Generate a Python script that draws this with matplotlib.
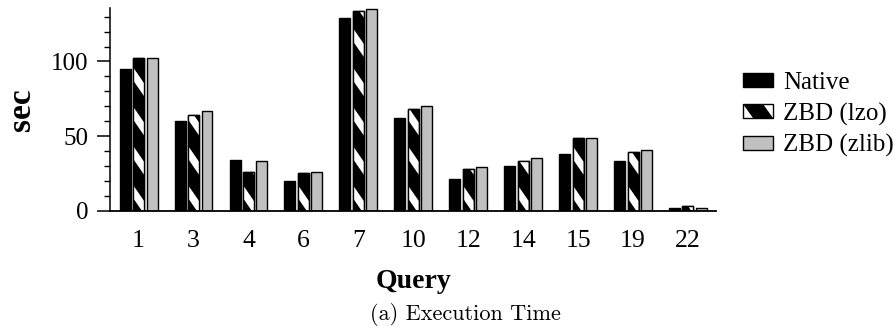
import numpy as np
import matplotlib
matplotlib.use("Agg")
import matplotlib.pyplot as plt
from matplotlib.patches import Rectangle, Polygon
from matplotlib.legend_handler import HandlerPatch, HandlerTuple
from matplotlib.ticker import MultipleLocator

# TPC-H queries and run times in seconds
queries = ['1', '3', '4', '6', '7', '10', '12', '14', '15', '19', '22']
native = [95, 60, 34, 20, 129, 62, 21, 30, 38, 33, 2]
zbd_lzo = [102, 64, 26, 25, 134, 68, 28, 33, 49, 39, 3]
zbd_zlib = [102, 67, 33, 26, 135, 70, 29, 35, 49, 41, 2]

series_names = ['Native', 'ZBD (lzo)', 'ZBD (zlib)']

plt.rcParams['font.family'] = ['Liberation Serif', 'DejaVu Serif']

BAR_W = 0.2
OFFSET = 0.245
EDGE_LW = 1.0

# white diagonal stripes on the lzo bars (data units)
STRIPE_START = 8.5
STRIPE_PERIOD = 26.3
STRIPE_THICK = 8.7
STRIPE_DROP = 10.7


def add_stripes(ax, rect):
    """Draw white top-left to bottom-right stripes clipped to a bar."""
    x0 = rect.get_x()
    w = rect.get_width()
    h = rect.get_height()
    y = STRIPE_START
    while y - STRIPE_DROP < h:
        stripe = Polygon([(x0, y), (x0, y + STRIPE_THICK),
                          (x0 + w, y + STRIPE_THICK - STRIPE_DROP),
                          (x0 + w, y - STRIPE_DROP)],
                         closed=True, facecolor='white', edgecolor='none',
                         zorder=2.5)
        ax.add_patch(stripe)
        stripe.set_clip_path(rect)
        y += STRIPE_PERIOD


def corner_left(legend, orig_handle, xdescent, ydescent, width, height, fontsize):
    x0, y0 = -xdescent, -ydescent
    return Polygon([(x0, y0 + height), (x0, y0), (x0 + 0.33 * width, y0)], closed=True)


def corner_right(legend, orig_handle, xdescent, ydescent, width, height, fontsize):
    x0, y0 = -xdescent, -ydescent
    return Polygon([(x0 + 0.67 * width, y0 + height), (x0 + width, y0 + height),
                    (x0 + width, y0)], closed=True)


fig = plt.figure(figsize=(8.96, 3.28), dpi=100)
ax = fig.add_axes([0.1228, 0.3576, 0.6763, 0.6171])

x = np.arange(len(queries))

ax.bar(x - OFFSET, native, BAR_W, color='black', edgecolor='black',
       linewidth=EDGE_LW, zorder=2)
lzo_bars = ax.bar(x, zbd_lzo, BAR_W, color='black', edgecolor='black',
                  linewidth=EDGE_LW, zorder=2)
for rect in lzo_bars:
    add_stripes(ax, rect)
# outline again so the stripes do not cover the bar edges
ax.bar(x, zbd_lzo, BAR_W, color='none', edgecolor='black',
       linewidth=EDGE_LW, zorder=3)
ax.bar(x + OFFSET, zbd_zlib, BAR_W, color='#c0c0c0', edgecolor='black',
       linewidth=EDGE_LW, zorder=2)

ax.set_xlim(-0.52, 10.51)
ax.set_ylim(0, 135.6)

ax.spines['top'].set_visible(False)
ax.spines['right'].set_visible(False)
ax.spines['left'].set_linewidth(1.1)
ax.spines['bottom'].set_linewidth(1.3)

ax.set_xticks(x)
ax.set_xticklabels(queries)
ax.tick_params(axis='x', length=0, pad=14, labelsize=18.5)
ax.yaxis.set_major_locator(MultipleLocator(50))
ax.yaxis.set_minor_locator(MultipleLocator(10))
ax.tick_params(axis='y', which='major', direction='out', length=9.5,
               width=1.1, pad=6, labelsize=18)
ax.tick_params(axis='y', which='minor', direction='out', length=4.3, width=1.0)

ax.set_ylabel('sec', fontsize=24, fontweight='bold', labelpad=10)
ax.set_xlabel('Query', fontsize=20, fontweight='bold', labelpad=12)

# legend with proxy patches
h_native = Rectangle((0, 0), 1, 1, facecolor='black', edgecolor='black', linewidth=EDGE_LW)
h_lzo_bg = Rectangle((0, 0), 1, 1, facecolor='black', edgecolor='none')
h_lzo_l = Polygon([[0, 0]], facecolor='white', edgecolor='none')
h_lzo_r = Polygon([[0, 0]], facecolor='white', edgecolor='none')
h_lzo_edge = Rectangle((0, 0), 1, 1, facecolor='none', edgecolor='black', linewidth=EDGE_LW)
h_zlib = Rectangle((0, 0), 1, 1, facecolor='#c0c0c0', edgecolor='black', linewidth=EDGE_LW)

fig.legend([h_native, (h_lzo_bg, h_lzo_l, h_lzo_r, h_lzo_edge), h_zlib], series_names,
           handler_map={h_lzo_l: HandlerPatch(patch_func=corner_left),
                        h_lzo_r: HandlerPatch(patch_func=corner_right),
                        tuple: HandlerTuple(ndivide=1, pad=0)},
           loc='upper left', bbox_to_anchor=(0.829, 0.78), frameon=False,
           fontsize=18, handlelength=1.2, handleheight=0.48, handletextpad=0.4,
           labelspacing=0.34, borderpad=0, borderaxespad=0)

fig.text(0.52, 0.04, '(a) Execution Time', ha='center', va='center',
         fontsize=16, family=['cmr10', 'DejaVu Serif'])

fig.savefig('out.png', dpi=100)
